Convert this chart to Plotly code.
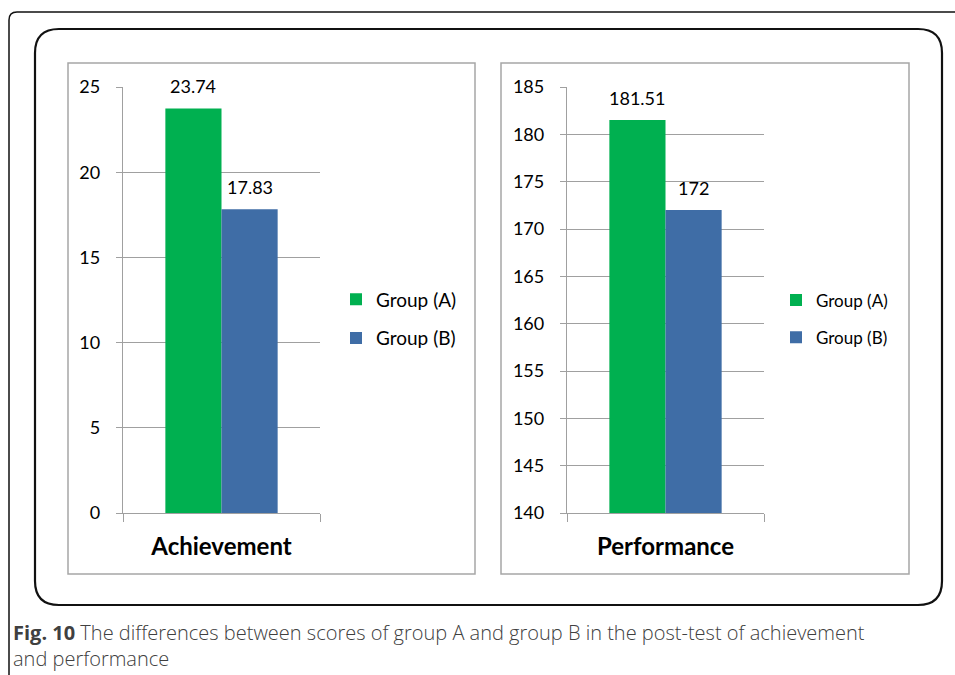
import plotly.graph_objects as go

W, H = 955, 675

# ---- data ----
groups = ["Group (A)", "Group (B)"]
achievement_cat = ["Achievement"]
performance_cat = ["Performance"]
achievement_vals = [23.74, 17.83]
performance_vals = [181.51, 172]
ach_ticks = [0, 5, 10, 15, 20, 25]
perf_ticks = [140, 145, 150, 155, 160, 165, 170, 175, 180, 185]
colors = ["#00B050", "#3F6DA6"]
caption_bold = "Fig. 10"
caption_text = ("The differences between scores of group A and group B in the post-test of achievement"
                "<br>and performance")

FONT = "Lato"
BARGAP = 0.43


def px(x):
    return x / W


def py(y):
    return 1 - y / H


fig = go.Figure()

panels = [(achievement_cat, achievement_vals, "x", "y", "legend"),
          (performance_cat, performance_vals, "x2", "y2", "legend2")]
for cats, vals, xa, ya, lg in panels:
    for i, g in enumerate(groups):
        fig.add_trace(go.Bar(
            x=cats, y=[vals[i]], name=g, marker_color=colors[i], marker_line_width=0,
            xaxis=xa, yaxis=ya, legend=lg, legendgroup=g,
        ))
    # value labels above each bar (bar centres from the group layout)
    barw = (1 - BARGAP) / len(groups)
    for i, g in enumerate(groups):
        fig.add_annotation(
            xref=xa, yref=ya, x=(i - (len(groups) - 1) / 2) * barw, y=vals[i],
            text=f"{vals[i]:g}", showarrow=False, yanchor="middle", yshift=22,
            font=dict(family=FONT, size=18, color="#000"),
        )

grid = "#A0A0A0"
xcommon = dict(showline=True, linecolor=grid, linewidth=1.3, ticks="outside", tickson="boundaries",
               ticklen=8, tickcolor=grid, tickwidth=1.3, showgrid=False, fixedrange=True,
               automargin=False, range=[-0.5, 0.5],
               tickfont=dict(family=FONT, size=24, color="#000", weight="bold"),
               ticklabelstandoff=12)
ycommon = dict(showline=True, linecolor=grid, linewidth=1.3, ticks="outside", ticklen=6,
               tickcolor=grid, tickwidth=1.3, showgrid=True, gridcolor=grid, gridwidth=1.3,
               zeroline=False, automargin=False, tickfont=dict(family=FONT, size=18, color="#000"),
               ticklabelstandoff=12)

fig.update_layout(
    width=W, height=H, margin=dict(l=0, r=0, t=0, b=0, pad=0, autoexpand=False),
    paper_bgcolor="white", plot_bgcolor="rgba(0,0,0,0)",
    barmode="group", bargap=BARGAP, bargroupgap=0,
    showlegend=True,
    xaxis=dict(domain=[px(123), px(320)], anchor="y", **xcommon),
    yaxis=dict(domain=[py(513), py(87)], anchor="x", range=[0, 25], tickvals=ach_ticks, **ycommon),
    xaxis2=dict(domain=[px(567), px(764)], anchor="y2", **xcommon),
    yaxis2=dict(domain=[py(513), py(87)], anchor="x2", range=[140, 185], tickvals=perf_ticks, **ycommon),
    legend=dict(x=px(336), y=py(319), xanchor="left", yanchor="middle", traceorder="grouped",
                tracegroupgap=11, itemwidth=30, bgcolor="rgba(0,0,0,0)",
                font=dict(family=FONT, size=19, color="#000")),
    legend2=dict(x=px(776), y=py(319), xanchor="left", yanchor="middle", traceorder="grouped",
                 tracegroupgap=12, itemwidth=30, bgcolor="rgba(0,0,0,0)",
                 font=dict(family=FONT, size=17, color="#000")),
)

shapes = []
# outer frame (top & left lines with rounded corner)
shapes.append(dict(type="path", xref="paper", yref="paper",
                   path=f"M {px(9)},{py(675)} L {px(9)},{py(20)} Q {px(9)},{py(12)} {px(17)},{py(12)} L {px(955)},{py(12)}",
                   line=dict(color="#111", width=1.5)))
# inner rounded rectangle
x0, y0, x1, y1, r = 35, 29, 942, 605, 24
p = (f"M {px(x0 + r)},{py(y0)} L {px(x1 - r)},{py(y0)} Q {px(x1)},{py(y0)} {px(x1)},{py(y0 + r)} "
     f"L {px(x1)},{py(y1 - r)} Q {px(x1)},{py(y1)} {px(x1 - r)},{py(y1)} "
     f"L {px(x0 + r)},{py(y1)} Q {px(x0)},{py(y1)} {px(x0)},{py(y1 - r)} "
     f"L {px(x0)},{py(y0 + r)} Q {px(x0)},{py(y0)} {px(x0 + r)},{py(y0)} Z")
shapes.append(dict(type="path", xref="paper", yref="paper", path=p, line=dict(color="#111", width=2.2)))
# panel boxes
for (a, b, c, d) in [(68, 63, 475, 574), (501, 63, 909, 574)]:
    shapes.append(dict(type="rect", xref="paper", yref="paper", x0=px(a), x1=px(c), y0=py(d), y1=py(b),
                       line=dict(color="#A6A6A6", width=1.5), layer="below"))
fig.update_layout(shapes=shapes)

fig.add_annotation(xref="paper", yref="paper", x=px(11), y=py(617), xanchor="left", yanchor="top",
                   align="left", showarrow=False,
                   text=f"<b>{caption_bold}</b> {caption_text}",
                   font=dict(family="Open Sans", size=20, color="#404040", weight=300))

fig.write_html("out.html", config={"displayModeBar": False},
               post_script="document.body.style.margin='0';document.body.style.overflow='hidden';")
